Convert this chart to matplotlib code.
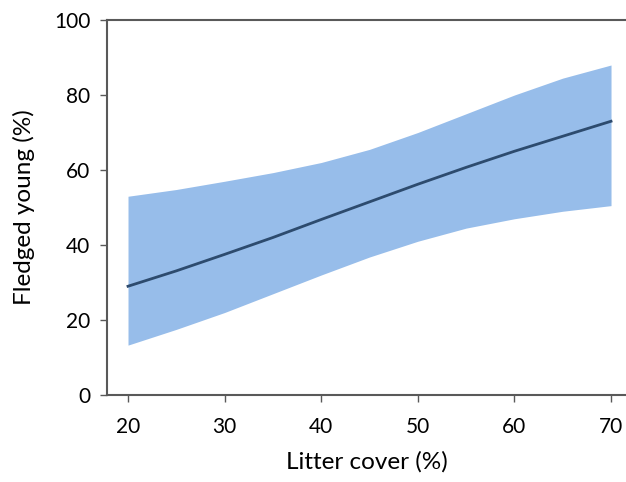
import matplotlib.pyplot as plt
import numpy as np

plt.rcParams['font.family'] = ['Lato', 'DejaVu Sans']

# litter cover (%) and predicted fledging success with 95% band
litter = [20, 25, 30, 35, 40, 45, 50, 55, 60, 65, 70]
fit    = [29, 33.1, 37.5, 42, 46.8, 51.5, 56.2, 60.7, 65, 69, 73]
upper  = [53, 54.8, 57, 59.3, 62, 65.5, 70, 75, 80, 84.5, 88]
lower  = [13.3, 17.5, 22, 27, 32, 36.8, 41, 44.5, 47, 49, 50.5]

fig = plt.figure(figsize=(6.26, 4.82), dpi=100)
ax = fig.add_axes([0.171, 0.1805, 0.829, 0.778])

ax.fill_between(litter, lower, upper, color="#97bdea", linewidth=0)
ax.plot(litter, fit, color="#2d4b6e", linewidth=2)

ax.set_xlim(17.83, 71.55)
ax.set_ylim(0, 100)
ax.set_xticks([20, 30, 40, 50, 60, 70])
ax.set_yticks([0, 20, 40, 60, 80, 100])

for s in ["left", "bottom", "top"]:
    ax.spines[s].set_color("#595959")
    ax.spines[s].set_linewidth(1.5)
ax.spines["right"].set_visible(False)

ax.tick_params(axis="both", length=5, width=1, color="#595959", labelsize=15, pad=7)
ax.tick_params(axis="x", pad=11)

ax.set_xlabel("Litter cover (%)", fontsize=17.5, labelpad=10)
ax.set_ylabel("Fledged young (%)", fontsize=17.5, labelpad=14)

fig.savefig("out.png", dpi=100)
